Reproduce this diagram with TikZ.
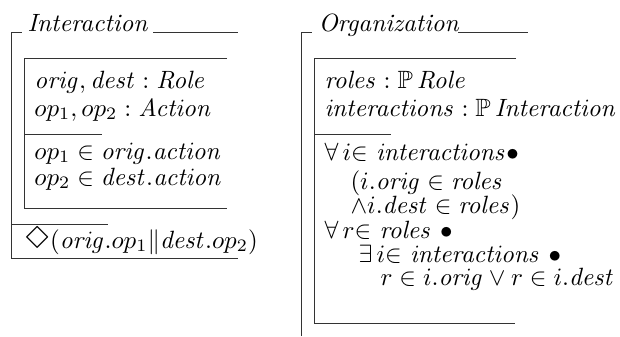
\documentclass[tikz,border=0pt]{standalone}
\usepackage{amsfonts}
\usepackage{latexsym}
\usepackage{amsmath}
\usepackage{graphicx}
\usepackage{tikz}

\newcommand{\zn}[1]{\mathit{#1}}

\begin{document}
\begin{tikzpicture}[x=0.4pt,y=-0.4pt,
		zline/.style={line width=0.4pt,black!80},
		ztext/.style={anchor=base west,inner sep=0pt}]
		\useasboundingbox (0,0) rectangle (620,336);

		% Interaction schema
		\draw[zline] (11,258) -- (11,32) -- (22,32);
		\node[ztext] (inttitle) at (27,31) {\textit{Interaction}};
		\draw[zline] (153,32) -- (238,32);
		\draw[zline] (227,58) -- (24,58) -- (24,208) -- (227,208);
		\draw[zline] (24,134) -- (102,134);
		\draw[zline] (11,224) -- (108,224);
		\draw[zline] (11,258) -- (238,258);

		\node[ztext] (intdecl1) at (34,88) {$\zn{orig}, \zn{dest} : \zn{Role}$};
		\node[ztext] (intdecl2) at (34,116) {$op_1, op_2 : \zn{Action}$};
		\node[ztext] (intpred1) at (34,159) {$op_1 \in \zn{orig}.\zn{action}$};
		\node[ztext] (intpred2) at (34,185) {$op_2 \in \zn{dest}.\zn{action}$};
		\node[ztext] (intprop) at (24,248) {$\mathord{\scalebox{1.3}{$\Diamond$}}(\zn{orig}.op_1 \| \zn{dest}.op_2)$};

		% Organization schema
		\draw[zline] (301,336) -- (301,32) -- (312,32);
		\node[ztext] (orgtitle) at (318,31) {\textit{Organization}};
		\draw[zline] (458,32) -- (528,32);
		\draw[zline] (516,58) -- (314,58) -- (314,323) -- (515,323);
		\draw[zline] (314,134) -- (391,134);

		\node[ztext] (orgdecl1) at (324,88) {$\zn{roles} : \mathbb{P}\, \zn{Role}$};
		\node[ztext] (orgdecl2) at (324,116) {$\zn{interactions} : \mathbb{P}\, \zn{Interaction}$};
		\node[ztext] (orgpred1) at (324,160) {$\forall\, i{\in}\ \zn{interactions}{\bullet}$};
		\node[ztext] (orgpred2) at (350,189) {$(i.\zn{orig} \in \zn{roles}$};
		\node[ztext] (orgpred3) at (350,213) {$\wedge i.\zn{dest} \in \zn{roles})$};
		\node[ztext] (orgpred4) at (324,238) {$\forall\, r{\in}\ \zn{roles}\ \bullet$};
		\node[ztext] (orgpred5) at (358,262) {$\exists\, i{\in}\ \zn{interactions}\ \bullet$};
		\node[ztext] (orgpred6) at (380,285) {$r \in i.\zn{orig} \vee r \in i.\zn{dest}$};
	\end{tikzpicture}
\end{document}
